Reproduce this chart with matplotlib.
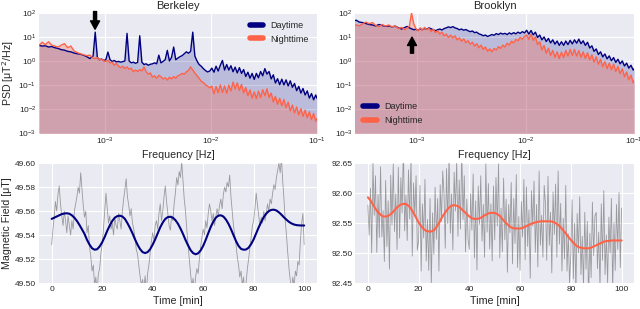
import numpy as np
import matplotlib
matplotlib.use("Agg")
import matplotlib.pyplot as plt

plt.style.use("seaborn-v0_8-darkgrid")
plt.rcParams["font.family"] = ["Liberation Sans", "DejaVu Sans"]

# ---- PSD data (log10 of frequency in Hz, log10 of PSD in uT^2/Hz) ----
freq_log = [-3.62, -3.59, -3.56, -3.53, -3.50, -3.47, -3.44, -3.41, -3.38, -3.35,
            -3.32, -3.29, -3.26, -3.23, -3.20, -3.17, -3.14, -3.11, -3.09, -3.07,
            -3.05, -3.03, -3.01,
            -2.99, -2.97, -2.95, -2.93, -2.91, -2.89, -2.87, -2.85, -2.83, -2.81,
            -2.79, -2.77, -2.75, -2.73, -2.71, -2.69, -2.67, -2.65, -2.63, -2.61,
            -2.59, -2.57, -2.55, -2.53, -2.51, -2.49, -2.47, -2.45, -2.43, -2.41,
            -2.39, -2.37, -2.35, -2.33, -2.31, -2.29, -2.27, -2.25, -2.23, -2.21,
            -2.19, -2.17, -2.15, -2.13, -2.11, -2.09, -2.07, -2.05, -2.03, -2.01,
            -1.99, -1.97, -1.95, -1.93, -1.91, -1.89, -1.87, -1.85, -1.83, -1.81,
            -1.79, -1.77, -1.75, -1.73, -1.71, -1.69, -1.67, -1.65, -1.63, -1.61,
            -1.59, -1.57, -1.55, -1.53, -1.51, -1.49, -1.47, -1.45, -1.43, -1.41,
            -1.39, -1.37, -1.35, -1.33, -1.31, -1.29, -1.27, -1.25, -1.23, -1.21,
            -1.19, -1.17, -1.15, -1.13, -1.11, -1.09, -1.07, -1.05, -1.03, -1.01,
            -1.00]

berkeley_day = [0.65, 0.62, 0.63, 0.58, 0.60, 0.55, 0.52, 0.47, 0.45, 0.40,
                0.38, 0.33, 0.30, 0.28, 0.24, 0.18, 0.10, 0.20, 1.20, 0.15,
                0.05, 0.08, 0.02,
                0.05, 0.37, 0.05, -0.02, 0.02, -0.04, -0.02, -0.05, -0.03, 0.00,
                1.15, 0.00, -0.08, -0.05, -0.10, -0.06, 1.05, -0.05, -0.15, -0.12,
                -0.18, -0.14, -0.12, -0.08, -0.12, 0.24, -0.08, -0.02, 0.05, 0.44,
                0.00, 0.15, 0.58, 0.05, 0.12, 0.18, 0.22, 0.30, 0.38, 0.32,
                0.40, 1.20, 0.20, 0.00, -0.15, -0.22, -0.32, -0.40, -0.46, -0.42,
                -0.30, -0.47, -0.22, -0.42, -0.18, 0.02, -0.38, -0.15, -0.38, -0.20,
                -0.45, -0.26, -0.50, -0.28, -0.52, -0.36, -0.65, -0.47, -0.72, -0.52,
                -0.77, -0.52, -0.70, -0.44, -0.62, -0.32, -0.55, -0.44, -0.75, -0.58,
                -0.92, -0.74, -0.99, -0.76, -1.00, -0.79, -1.04, -0.83, -1.10, -0.94,
                -1.24, -1.06, -1.34, -1.15, -1.42, -1.25, -1.55, -1.36, -1.62, -1.42,
                -1.55]

berkeley_night = [0.65, 0.78, 0.68, 0.80, 0.66, 0.62, 0.58, 0.66, 0.72, 0.55,
                  0.62, 0.42, 0.35, 0.30, 0.26, 0.22, 0.24, 0.12, 0.10, 0.14,
                  0.05, 0.08, 0.00,
                  -0.02, 0.02, -0.08, -0.05, -0.18, -0.10, -0.22, -0.28, -0.22, -0.32,
                  -0.25, -0.35, -0.30, -0.45, -0.38, -0.44, -0.36, -0.42, -0.25, -0.45,
                  -0.55, -0.50, -0.68, -0.62, -0.72, -0.60, -0.66, -0.75, -0.70, -0.80,
                  -0.68, -0.75, -0.65, -0.72, -0.62, -0.58, -0.52, -0.55, -0.45, -0.40,
                  -0.25, -0.38, -0.50, -0.62, -0.72, -0.85, -0.90, -1.00, -1.05, -1.12,
                  -1.05, -1.37, -1.06, -1.32, -1.00, -1.32, -1.04, -1.35, -1.01, -1.25,
                  -0.88, -1.17, -0.91, -1.23, -0.98, -1.33, -1.11, -1.45, -1.21, -1.55,
                  -1.29, -1.57, -1.26, -1.53, -1.20, -1.45, -1.16, -1.53, -1.34, -1.71,
                  -1.48, -1.81, -1.56, -1.87, -1.61, -1.95, -1.72, -2.08, -1.84, -2.17,
                  -1.92, -2.25, -1.99, -2.31, -2.05, -2.37, -2.12, -2.45, -2.19, -2.52,
                  -2.40]

brooklyn_day = [1.72, 1.65, 1.70, 1.62, 1.60, 1.56, 1.52, 1.50, 1.46, 1.52,
                1.48, 1.44, 1.46, 1.42, 1.45, 1.38, 1.33, 1.40, 1.44, 1.38,
                1.34, 1.30, 1.32,
                1.28, 1.34, 1.30, 1.36, 1.32, 1.38, 1.34, 1.30, 1.26, 1.30,
                1.33, 1.29, 1.35, 1.38, 1.42, 1.39, 1.43, 1.38, 1.35, 1.30,
                1.33, 1.28, 1.31, 1.26, 1.22, 1.25, 1.18, 1.20, 1.13, 1.10,
                1.05, 1.08, 1.02, 1.06, 1.10, 1.07, 1.14, 1.10, 1.16, 1.12,
                1.15, 1.10, 1.17, 1.12, 1.18, 1.13, 1.20, 1.15, 1.22, 1.17,
                1.28, 1.12, 1.27, 1.09, 1.20, 0.98, 1.08, 0.88, 1.00, 0.81,
                0.94, 0.75, 0.88, 0.70, 0.83, 0.65, 0.80, 0.65, 0.83, 0.68,
                0.86, 0.71, 0.88, 0.74, 0.91, 0.72, 0.84, 0.65, 0.78, 0.54,
                0.63, 0.40, 0.50, 0.27, 0.38, 0.17, 0.29, 0.09, 0.21, 0.01,
                0.14, -0.06, 0.07, -0.12, 0.00, -0.21, -0.09, -0.30, -0.18, -0.38,
                -0.32]

brooklyn_night = [1.50, 1.48, 1.50, 1.46, 1.55, 1.62, 1.55, 1.60, 1.48, 1.42,
                  1.52, 1.45, 1.50, 1.42, 1.46, 1.35, 1.40, 1.30, 1.38, 1.45,
                  2.00, 1.55, 1.35,
                  1.25, 1.38, 1.28, 1.40, 1.30, 1.36, 1.22, 1.32, 1.18, 1.26,
                  1.12, 1.20, 1.05, 1.12, 0.98, 1.08, 0.96, 1.05, 0.88, 0.96,
                  0.82, 0.92, 0.76, 0.85, 0.70, 0.78, 0.62, 0.72, 0.55, 0.66,
                  0.48, 0.58, 0.40, 0.50, 0.38, 0.52, 0.45, 0.60, 0.52, 0.66,
                  0.58, 0.74, 0.66, 0.82, 0.75, 0.90, 0.84, 0.98, 0.90, 1.02,
                  1.08, 0.90, 1.12, 0.86, 1.00, 0.68, 0.80, 0.46, 0.64, 0.32,
                  0.53, 0.23, 0.44, 0.15, 0.38, 0.10, 0.37, 0.14, 0.44, 0.20,
                  0.48, 0.23, 0.48, 0.20, 0.43, 0.15, 0.38, 0.10, 0.34, 0.04,
                  0.25, -0.05, 0.17, -0.14, 0.07, -0.24, -0.03, -0.32, -0.09, -0.37,
                  -0.13, -0.44, -0.23, -0.53, -0.33, -0.66, -0.46, -0.79, -0.59, -0.91,
                  -0.80]

# ---- Magnetic field time series ----
berkeley_raw = [49.532, 49.545, 49.555, 49.568, 49.560, 49.574, 49.581, 49.566, 49.556, 49.548,
                49.560, 49.552, 49.542, 49.556, 49.548, 49.540, 49.552, 49.545, 49.560, 49.566,
                49.572, 49.580, 49.575, 49.592, 49.578, 49.565, 49.555, 49.560, 49.542, 49.548,
                49.530, 49.522, 49.510, 49.515, 49.498, 49.505, 49.492, 49.508, 49.512, 49.525,
                49.532, 49.545, 49.560, 49.575, 49.562, 49.550, 49.556, 49.545, 49.550, 49.540,
                49.555, 49.548, 49.545, 49.558, 49.552, 49.545, 49.560, 49.570, 49.578, 49.587,
                49.572, 49.565, 49.556, 49.562, 49.550, 49.545, 49.538, 49.528, 49.524, 49.515,
                49.506, 49.498, 49.503, 49.495, 49.506, 49.492, 49.508, 49.515, 49.525, 49.535,
                49.542, 49.535, 49.548, 49.552, 49.545, 49.558, 49.566, 49.552, 49.560, 49.572,
                49.581, 49.568, 49.558, 49.548, 49.544, 49.556, 49.552, 49.566, 49.575, 49.588,
                49.582, 49.593, 49.588, 49.601, 49.585, 49.570, 49.560, 49.545, 49.532, 49.520,
                49.508, 49.497, 49.504, 49.492, 49.505, 49.512, 49.508, 49.520, 49.530, 49.538,
                49.545, 49.540, 49.552, 49.546, 49.558, 49.566, 49.560, 49.552, 49.558, 49.548,
                49.555, 49.562, 49.556, 49.565, 49.570, 49.562, 49.574, 49.580, 49.576, 49.584,
                49.580, 49.590, 49.572, 49.560, 49.548, 49.540, 49.532, 49.522, 49.515, 49.505,
                49.510, 49.498, 49.505, 49.490, 49.500, 49.512, 49.520, 49.530, 49.538, 49.548,
                49.552, 49.562, 49.575, 49.565, 49.556, 49.548, 49.555, 49.550, 49.560, 49.552,
                49.558, 49.566, 49.560, 49.570, 49.566, 49.575, 49.582, 49.578, 49.588, 49.594,
                49.600, 49.592, 49.604, 49.585, 49.570, 49.552, 49.540, 49.525, 49.512, 49.502,
                49.495, 49.505, 49.497, 49.510, 49.506, 49.518, 49.515, 49.535, 49.550, 49.558,
                49.532]

berkeley_fit = [49.5535, 49.5545, 49.5555, 49.5565, 49.5575, 49.5580, 49.5582, 49.5578, 49.5565, 49.5545,
                49.5518, 49.5485, 49.5448, 49.5410, 49.5360, 49.5320, 49.5290, 49.5278, 49.5282, 49.5305,
                49.5340, 49.5385, 49.5435, 49.5480, 49.5518, 49.5545, 49.5558, 49.5562, 49.5555, 49.5535,
                49.5500, 49.5460, 49.5415, 49.5365, 49.5320, 49.5283, 49.5258, 49.5250, 49.5258, 49.5282,
                49.5320, 49.5365, 49.5415, 49.5465, 49.5505, 49.5535, 49.5550, 49.5553, 49.5545, 49.5525,
                49.5495, 49.5455, 49.5410, 49.5360, 49.5315, 49.5275, 49.5250, 49.5240, 49.5248, 49.5272,
                49.5310, 49.5360, 49.5415, 49.5468, 49.5512, 49.5545, 49.5562, 49.5565, 49.5555, 49.5530,
                49.5495, 49.5450, 49.5400, 49.5350, 49.5310, 49.5285, 49.5278, 49.5280, 49.5295, 49.5325,
                49.5365, 49.5415, 49.5465, 49.5510, 49.5550, 49.5580, 49.5600, 49.5610, 49.5612, 49.5605,
                49.5590, 49.5570, 49.5548, 49.5528, 49.5510, 49.5497, 49.5488, 49.5483, 49.5481, 49.5480,
                49.5480]

brooklyn_raw = [92.580, 92.530, 92.608, 92.500, 92.651, 92.563, 92.629, 92.501, 92.598, 92.526,
                92.644, 92.527, 92.571, 92.486, 92.621, 92.511, 92.587, 92.473, 92.630, 92.547,
                92.649, 92.536, 92.599, 92.506, 92.643, 92.525, 92.626, 92.567, 92.682, 92.537,
                92.597, 92.521, 92.639, 92.557, 92.659, 92.495, 92.617, 92.563, 92.629, 92.505,
                92.521, 92.613, 92.470, 92.582, 92.525, 92.623, 92.487, 92.556, 92.471, 92.591,
                92.446, 92.567, 92.498, 92.610, 92.523, 92.591, 92.470, 92.614, 92.553, 92.637,
                92.600, 92.508, 92.641, 92.549, 92.666, 92.533, 92.599, 92.505, 92.635, 92.570,
                92.654, 92.528, 92.622, 92.540, 92.673, 92.556, 92.629, 92.502, 92.590, 92.523,
                92.506, 92.599, 92.538, 92.632, 92.492, 92.587, 92.472, 92.612, 92.548, 92.629,
                92.520, 92.581, 92.493, 92.649, 92.535, 92.616, 92.507, 92.582, 92.487, 92.612,
                92.522, 92.626, 92.545, 92.649, 92.492, 92.575, 92.502, 92.625, 92.522, 92.590,
                92.468, 92.581, 92.534, 92.618, 92.482, 92.591, 92.516, 92.631, 92.476, 92.561,
                92.471, 92.586, 92.527, 92.623, 92.489, 92.610, 92.511, 92.572, 92.458, 92.604,
                92.545, 92.620, 92.501, 92.581, 92.477, 92.637, 92.513, 92.563, 92.493, 92.613,
                92.583, 92.488, 92.628, 92.513, 92.568, 92.467, 92.602, 92.531, 92.615, 92.493,
                92.637, 92.515, 92.583, 92.470, 92.558, 92.490, 92.613, 92.470, 92.532, 92.449,
                92.497, 92.589, 92.457, 92.550, 92.433, 92.566, 92.500, 92.594, 92.464, 92.528,
                92.443, 92.568, 92.473, 92.553, 92.418, 92.533, 92.459, 92.585, 92.496, 92.562,
                92.568, 92.474, 92.535, 92.441, 92.582, 92.488, 92.604, 92.464, 92.530, 92.450,
                92.560, 92.500, 92.591, 92.436, 92.551, 92.471, 92.581, 92.506, 92.601, 92.476,
                92.575]

brooklyn_fit = [92.593, 92.588, 92.581, 92.574, 92.568, 92.564, 92.561, 92.561, 92.562, 92.565,
                92.569, 92.574, 92.578, 92.581, 92.582, 92.582, 92.579, 92.574, 92.567, 92.559,
                92.551, 92.545, 92.540, 92.537, 92.536, 92.536, 92.538, 92.543, 92.550, 92.558,
                92.565, 92.571, 92.576, 92.579, 92.580, 92.579, 92.577, 92.573, 92.569, 92.565,
                92.561, 92.558, 92.557, 92.557, 92.558, 92.560, 92.563, 92.565, 92.567, 92.567,
                92.567, 92.565, 92.562, 92.557, 92.552, 92.548, 92.544, 92.542, 92.541, 92.541,
                92.541, 92.542, 92.544, 92.546, 92.548, 92.550, 92.551, 92.552, 92.553, 92.553,
                92.553, 92.553, 92.553, 92.552, 92.550, 92.547, 92.543, 92.538, 92.533, 92.527,
                92.522, 92.517, 92.513, 92.510, 92.509, 92.508, 92.508, 92.508, 92.509, 92.511,
                92.513, 92.515, 92.517, 92.519, 92.520, 92.520, 92.521, 92.521, 92.521, 92.521,
                92.521]

freq = 10 ** np.array(freq_log)
t_raw = np.linspace(0, 100, len(berkeley_raw))
t_fit = np.linspace(0, 100, len(berkeley_fit))

DAY = "navy"
NIGHT = "tomato"
TICK_FS = 6
LABEL_FS = 7.7

fig = plt.figure(figsize=(6.4, 3.09), dpi=100)
ax_b = fig.add_axes([0.061, 0.570, 0.434, 0.388])
ax_k = fig.add_axes([0.555, 0.570, 0.436, 0.388])
ax_bt = fig.add_axes([0.061, 0.084, 0.434, 0.388])
ax_kt = fig.add_axes([0.555, 0.084, 0.436, 0.388])


def psd_panel(ax, day_log, night_log, title, xmin, leg_loc):
    day = 10 ** np.array(day_log)
    night = 10 ** np.array(night_log)
    ax.plot(freq, day, color=DAY, lw=1.0, label="Daytime")
    ax.fill_between(freq, day, 1e-4, color=DAY, alpha=0.2, lw=0)
    ax.plot(freq, night, color=NIGHT, lw=1.0, label="Nighttime")
    ax.fill_between(freq, night, 1e-4, color=NIGHT, alpha=0.3, lw=0)
    ax.set_xscale("log")
    ax.set_yscale("log")
    ax.set_xlim(xmin, 0.1)
    ax.set_ylim(1e-3, 1e2)
    ax.set_xticks([1e-3, 1e-2, 1e-1])
    ax.set_yticks([1e-3, 1e-2, 1e-1, 1e0, 1e1, 1e2])
    ax.minorticks_off()
    ax.tick_params(labelsize=TICK_FS, pad=2)
    ax.set_xlabel("Frequency [Hz]", fontsize=LABEL_FS, labelpad=2)
    ax.set_title(title, fontsize=8, pad=3)
    leg = ax.legend(loc=leg_loc, fontsize=6.5, handlelength=1.5,
                    labelspacing=0.5, frameon=False)
    for h in leg.legend_handles:
        h.set_linewidth(4)


psd_panel(ax_b, berkeley_day, berkeley_night, "Berkeley", 2.4e-4, "upper right")
psd_panel(ax_k, brooklyn_day, brooklyn_night, "Brooklyn", 2.7e-4, "lower left")
ax_b.set_ylabel("PSD [μT$^2$/Hz]", fontsize=LABEL_FS, labelpad=2)

arrow = dict(facecolor="black", edgecolor="black", width=2.2, headwidth=6.5,
             headlength=6, shrink=0)
ax_b.annotate("", xy=(8.1e-4, 21), xytext=(8.1e-4, 115),
              arrowprops=arrow, annotation_clip=False)
ax_k.annotate("", xy=(9.0e-4, 9.8), xytext=(9.0e-4, 2.1),
              arrowprops=arrow, annotation_clip=False)


def time_panel(ax, raw, fit, color, ylim, yticks):
    ax.plot(t_raw, raw, color="black", lw=0.6, alpha=0.35)
    ax.plot(t_fit, fit, color=color, lw=1.5)
    ax.set_xlim(-5, 105)
    ax.set_ylim(*ylim)
    ax.set_yticks(yticks)
    ax.set_xticks([0, 20, 40, 60, 80, 100])
    ax.tick_params(labelsize=TICK_FS, pad=2)
    ax.set_xlabel("Time [min]", fontsize=LABEL_FS, labelpad=2)


time_panel(ax_bt, berkeley_raw, berkeley_fit, DAY, (49.50, 49.60),
           [49.50, 49.52, 49.54, 49.56, 49.58, 49.60])
time_panel(ax_kt, brooklyn_raw, brooklyn_fit, NIGHT, (92.45, 92.65),
           [92.45, 92.50, 92.55, 92.60, 92.65])
ax_bt.set_ylabel("Magnetic Field [μT]", fontsize=LABEL_FS, labelpad=2)

fig.savefig("out.png", dpi=100)
